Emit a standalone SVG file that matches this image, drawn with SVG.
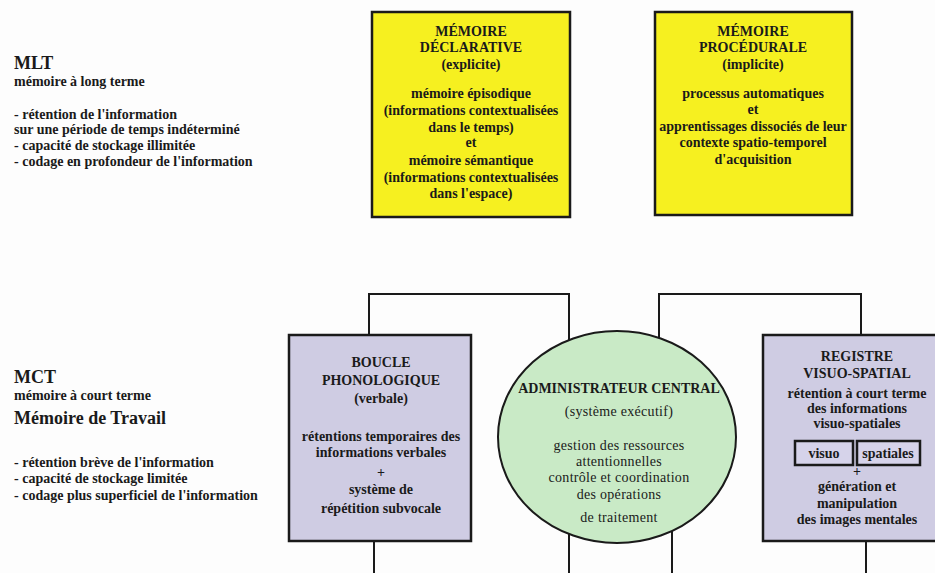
<svg xmlns="http://www.w3.org/2000/svg" width="935" height="573" viewBox="0 0 935 573">
  <style>
    text { font-family: "Liberation Serif", "Times New Roman", serif; fill: #1a1a1a; }
    .b { font-weight: bold; font-size: 14px; }
    .r { font-size: 14px; letter-spacing: 0.3px; }
    .c { text-anchor: middle; }
    .big { font-weight: bold; font-size: 18px; }
    .mid { font-weight: bold; font-size: 18px; }
    .yellow { fill: #f6f020; stroke: #1a1a1a; stroke-width: 2.5; }
    .lav { fill: #cfcce3; stroke: #1a1a1a; stroke-width: 2.5; }
    .inner { fill: #d6d3ea; stroke: #1a1a1a; stroke-width: 2.5; }
    .green { fill: #c9eac6; stroke: #1a1a1a; stroke-width: 2; }
    .wire { fill: none; stroke: #1a1a1a; stroke-width: 2; }
  </style>
  <rect width="935" height="573" fill="#fdfdfd"/>

  <!-- side captions -->
  <g id="caption-mlt">
    <text class="big" x="14" y="69">MLT</text>
    <text class="b" x="14" y="86">mémoire à long terme</text>
    <text class="b" x="14" y="119">- rétention de l'information</text>
    <text class="b" x="14" y="134">sur une période de temps indéterminé</text>
    <text class="b" x="14" y="150">- capacité de stockage illimitée</text>
    <text class="b" x="14" y="166">- codage en profondeur de l'information</text>
  </g>
  <g id="caption-mct">
    <text class="big" x="14" y="383">MCT</text>
    <text class="b" x="14" y="400">mémoire à court terme</text>
    <text class="mid" x="14" y="424">Mémoire de Travail</text>
    <text class="b" x="14" y="467">- rétention brève de l'information</text>
    <text class="b" x="14" y="483">- capacité de stockage limitée</text>
    <text class="b" x="14" y="500">- codage plus superficiel de l'information</text>
  </g>

  <!-- connectors -->
  <g id="connectors">
    <path class="wire" d="M369 336 V294 H569 V345"/>
    <path class="wire" d="M659 345 V294 H861 V336"/>
    <path class="wire" d="M374 540 V573"/>
    <path class="wire" d="M569 525 V573"/>
    <path class="wire" d="M672 525 V573"/>
    <path class="wire" d="M866 540 V573"/>
  </g>

  <!-- long-term memory -->
  <g id="memoire-declarative">
    <rect class="yellow" x="372" y="12" width="198" height="205"/>
    <text class="b c" x="471" y="36">MÉMOIRE</text>
    <text class="b c" x="471" y="52">DÉCLARATIVE</text>
    <text class="b c" x="471" y="69">(explicite)</text>
    <text class="b c" x="471" y="98">mémoire épisodique</text>
    <text class="b c" x="471" y="115">(informations contextualisées</text>
    <text class="b c" x="471" y="132">dans le temps)</text>
    <text class="b c" x="471" y="147">et</text>
    <text class="b c" x="471" y="165">mémoire sémantique</text>
    <text class="b c" x="471" y="182">(informations contextualisées</text>
    <text class="b c" x="471" y="198">dans l'espace)</text>
  </g>
  <g id="memoire-procedurale">
    <rect class="yellow" x="655" y="12" width="197" height="203"/>
    <text class="b c" x="753" y="36">MÉMOIRE</text>
    <text class="b c" x="753" y="52">PROCÉDURALE</text>
    <text class="b c" x="753" y="69">(implicite)</text>
    <text class="b c" x="753" y="98">processus automatiques</text>
    <text class="b c" x="753" y="114">et</text>
    <text class="b c" x="753" y="131">apprentissages dissociés de leur</text>
    <text class="b c" x="753" y="147">contexte spatio-temporel</text>
    <text class="b c" x="753" y="164">d'acquisition</text>
  </g>

  <!-- working memory -->
  <g id="boucle-phonologique">
    <rect class="lav" x="289" y="335" width="182" height="206"/>
    <text class="b c" x="381" y="367">BOUCLE</text>
    <text class="b c" x="381" y="385">PHONOLOGIQUE</text>
    <text class="b c" x="381" y="403">(verbale)</text>
    <text class="b c" x="381" y="441">rétentions temporaires des</text>
    <text class="b c" x="381" y="457">informations verbales</text>
    <text class="b c" x="381" y="477">+</text>
    <text class="b c" x="381" y="494">système de</text>
    <text class="b c" x="381" y="513">répétition subvocale</text>
  </g>
  <g id="administrateur-central">
    <ellipse class="green" cx="617" cy="437" rx="119" ry="106"/>
    <text class="b c" x="619" y="393">ADMINISTRATEUR CENTRAL</text>
    <text class="r c" x="619" y="416">(système exécutif)</text>
    <text class="r c" x="619" y="450">gestion des ressources</text>
    <text class="r c" x="619" y="466">attentionnelles</text>
    <text class="r c" x="619" y="482">contrôle et coordination</text>
    <text class="r c" x="619" y="499">des opérations</text>
    <text class="r c" x="619" y="522">de traitement</text>
  </g>
  <g id="registre-visuo-spatial">
    <rect class="lav" x="763" y="335" width="190" height="206"/>
    <text class="b c" x="857" y="361">REGISTRE</text>
    <text class="b c" x="857" y="378">VISUO-SPATIAL</text>
    <text class="b c" x="857" y="398">rétention à court terme</text>
    <text class="b c" x="857" y="413">des informations</text>
    <text class="b c" x="857" y="428">visuo-spatiales</text>
    <rect class="inner" x="795" y="441" width="58" height="24"/>
    <text class="b c" x="824" y="458">visuo</text>
    <rect class="inner" x="857" y="441" width="63" height="24"/>
    <text class="b c" x="888" y="458">spatiales</text>
    <text class="b c" x="857" y="476">+</text>
    <text class="b c" x="857" y="491">génération et</text>
    <text class="b c" x="857" y="508">manipulation</text>
    <text class="b c" x="857" y="524">des images mentales</text>
  </g>
</svg>
